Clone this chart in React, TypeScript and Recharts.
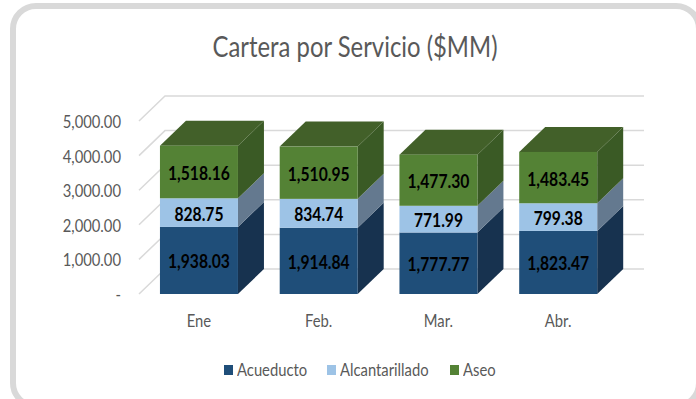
import { BarChart, Bar, XAxis, YAxis, CartesianGrid, LabelList, Legend } from 'recharts'

const categories = ['Ene', 'Feb.', 'Mar.', 'Abr.']
const acueducto = [1938.03, 1914.84, 1777.77, 1823.47]
const alcantarillado = [828.75, 834.74, 771.99, 799.38]
const aseo = [1518.16, 1510.95, 1477.3, 1483.45]
const yTicks = [0, 1000, 2000, 3000, 4000, 5000]

const chartData = categories.map((name, i) => ({
  name,
  acueducto: acueducto[i],
  alcantarillado: alcantarillado[i],
  aseo: aseo[i],
}))

const FONT = 'Lato, sans-serif'
const DX = 26
const DY = 25
const SQUEEZE = 0.87 // Lato squeezed a bit so it reads like the original narrow font

const fmt = (v: number) =>
  v === 0 ? '-' : v.toLocaleString('en-US', { minimumFractionDigits: 2, maximumFractionDigits: 2 })

// front face plus the fake 3d side, top only on the last series
function Box3D(props: any) {
  const { x, y, width, height, fill, side, top } = props
  return (
    <g>
      <polygon
        points={`${x + width},${y} ${x + width + DX},${y - DY} ${x + width + DX},${y + height - DY} ${x + width},${y + height}`}
        fill={side}
      />
      {top && (
        <polygon
          points={`${x},${y} ${x + DX},${y - DY} ${x + width + DX},${y - DY} ${x + width},${y}`}
          fill={top}
        />
      )}
      <rect x={x} y={y} width={width} height={height} fill={fill} />
    </g>
  )
}

function GridLine(props: any) {
  const { x1, x2, y1 } = props
  return (
    <polyline
      points={`${x1},${y1} ${x1 + DX},${y1 - DY} ${x2 + DX},${y1 - DY}`}
      fill="none"
      stroke="#d9d9d9"
      strokeWidth={1.5}
    />
  )
}

function NarrowTick(props: any) {
  const { x, y, payload, anchor, format, dy = 0 } = props
  return (
    <text
      transform={`translate(${x},${y + dy}) scale(${SQUEEZE},1)`}
      textAnchor={anchor}
      dominantBaseline="central"
      fontFamily={FONT}
      fontSize={17}
      fill="#595959"
    >
      {format ? format(payload.value) : payload.value}
    </text>
  )
}

function BarLabel(props: any) {
  const { x, y, width, height, value } = props
  return (
    <text
      transform={`translate(${x + width / 2},${y + height / 2 + 1}) scale(${SQUEEZE},1)`}
      textAnchor="middle"
      dominantBaseline="central"
      fontFamily={FONT}
      fontWeight="bold"
      fontSize={18}
      fill="#000"
    >
      {fmt(value)}
    </text>
  )
}

function LegendRow() {
  const items = [
    { label: 'Acueducto', color: '#1f4e79', w: 72 },
    { label: 'Alcantarillado', color: '#9dc3e6', w: 92 },
    { label: 'Aseo', color: '#548235', w: 33 },
  ]
  return (
    <div style={{ display: 'flex', justifyContent: 'center', gap: 18, fontFamily: FONT, fontSize: 17, color: '#595959' }}>
      {items.map(item => (
        <span key={item.label} style={{ display: 'flex', alignItems: 'center', gap: 4 }}>
          <span style={{ width: 9, height: 10, background: item.color, display: 'inline-block' }} />
          <span style={{ width: item.w, display: 'inline-block', whiteSpace: 'nowrap', transform: `scaleX(${SQUEEZE})`, transformOrigin: 'left center' }}>
            {item.label}
          </span>
        </span>
      ))}
    </div>
  )
}

export default function App() {
  return (
    <div style={{ position: 'absolute', left: 0, top: 0, width: 696, height: 399, overflow: 'hidden', background: '#fff' }}>
      <div
        style={{
          position: 'absolute',
          left: 10,
          top: 3,
          width: 692,
          height: 406,
          boxSizing: 'border-box',
          border: '6px solid #d9d9d9',
          borderRadius: 26,
        }}
      />
      <BarChart
        width={696}
        height={399}
        data={chartData}
        barCategoryGap="17.5%"
        margin={{ top: 121, right: 78, bottom: 54, left: 69 }}
        style={{ position: 'absolute', left: 0, top: 0 }}
      >
        <text x={355} y={57} textAnchor="middle" fontFamily={FONT} fontSize={28} fill="#595959" textLength={285} lengthAdjust="spacingAndGlyphs">
          Cartera por Servicio ($MM)
        </text>
        <CartesianGrid vertical={false} horizontal={<GridLine />} />
        <XAxis
          dataKey="name"
          axisLine={false}
          tickLine={false}
          tick={<NarrowTick anchor="middle" dy={4} />}
          tickMargin={16}
        />
        <YAxis
          width={70}
          domain={[0, 5000]}
          ticks={yTicks}
          tickFormatter={fmt}
          axisLine={false}
          tickLine={false}
          tick={<NarrowTick anchor="end" format={fmt} />}
          tickMargin={12}
        />
        <Bar dataKey="acueducto" stackId="a" fill="#1f4e79" isAnimationActive={false} shape={<Box3D side="#17324f" />}>
          <LabelList dataKey="acueducto" content={<BarLabel />} />
        </Bar>
        <Bar dataKey="alcantarillado" stackId="a" fill="#9dc3e6" isAnimationActive={false} shape={<Box3D side="#64798f" />}>
          <LabelList dataKey="alcantarillado" content={<BarLabel />} />
        </Bar>
        <Bar dataKey="aseo" stackId="a" fill="#548235" isAnimationActive={false} shape={<Box3D side="#3a5a25" top="#426029" />}>
          <LabelList dataKey="aseo" content={<BarLabel />} />
        </Bar>
        <Legend content={<LegendRow />} wrapperStyle={{ left: 0, width: 719, bottom: 19 }} />
      </BarChart>
    </div>
  )
}
